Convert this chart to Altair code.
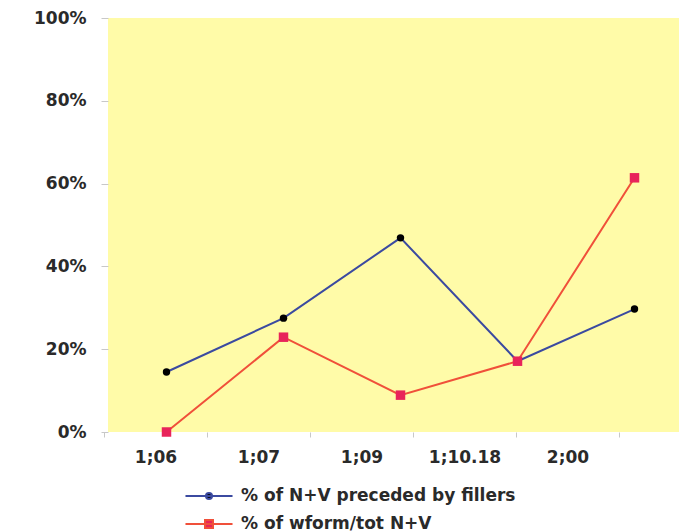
import altair as alt
import pandas as pd

ages = ["1;06", "1;07", "1;09", "1;10.18", "2;00"]
fillers = [14.5, 27.5, 46.9, 17.1, 29.7]
wform = [0.0, 22.9, 8.9, 17.1, 61.4]
series_names = ["% of N+V preceded by fillers", "% of wform/tot N+V"]
line_colors = ["#3b4aa0", "#f0503a"]
marker_colors = ["#000000", "#e8245a"]
marker_shapes = ["circle", "square"]
legend_paths = [
    "M-2.94,0H2.94M-0.38,0A0.38,0.38,0,1,0,0.38,0A0.38,0.38,0,1,0,-0.38,0Z",
    "M-2.94,0H2.94M-0.5,-0.5H0.5V0.5H-0.5Z",
]

rows = []
for a, v in zip(ages, fillers):
    rows.append({"age": a, "value": v / 100, "series": series_names[0]})
for a, v in zip(ages, wform):
    rows.append({"age": a, "value": v / 100, "series": series_names[1]})
df = pd.DataFrame(rows)

FONT = "DejaVu Sans"
FS = 17

x_data = alt.X("age:N", sort=ages, title=None,
               scale=alt.Scale(range=[0, 585], paddingInner=0, paddingOuter=0),
               axis=None)
y_axis = alt.Y("value:Q", title=None,
               scale=alt.Scale(domain=[0, 1], nice=False),
               axis=alt.Axis(format=".0%", values=[0, 0.2, 0.4, 0.6, 0.8, 1.0], grid=False,
                             domain=False, tickColor="#c8c8c8", tickSize=7, labelPadding=15))

lines = alt.Chart(df).mark_line(strokeWidth=2).encode(
    x=x_data, y=y_axis,
    color=alt.Color("series:N", scale=alt.Scale(domain=series_names, range=line_colors), legend=None),
)

points = alt.Chart(df).mark_point(filled=True, opacity=1).encode(
    x=x_data, y=y_axis,
    shape=alt.Shape("series:N", scale=alt.Scale(domain=series_names, range=marker_shapes), legend=None),
    fill=alt.Fill("series:N", scale=alt.Scale(domain=series_names, range=marker_colors), legend=None),
    size=alt.Size("series:N", scale=alt.Scale(domain=series_names, range=[55, 90]), legend=None),
)

leg = dict(title=None, orient="none", legendX=92, legendY=469,
           direction="vertical", symbolSize=256,
           symbolStrokeWidth=2, symbolOpacity=1,
           labelFont=FONT, labelFontWeight="bold",
           labelFontSize=FS, labelColor="#2a2a2a", labelLimit=0,
           labelOffset=23, rowPadding=11)

legend_layer = alt.Chart(df).mark_point(opacity=0, filled=False).encode(
    x=x_data, y=y_axis,
    stroke=alt.Stroke("series:N", scale=alt.Scale(domain=series_names, range=line_colors),
                      legend=alt.Legend(**leg)),
    fill=alt.Fill("series:N", scale=alt.Scale(domain=series_names, range=marker_colors),
                  legend=alt.Legend(**leg)),
    shape=alt.Shape("series:N", scale=alt.Scale(domain=series_names, range=legend_paths),
                    legend=alt.Legend(**leg)),
)

axis_layer = alt.Chart(df).mark_point(opacity=0).encode(
    x=alt.X("age:N", sort=ages, title=None,
            scale=alt.Scale(range=[-4, 511], paddingInner=0, paddingOuter=0),
            axis=alt.Axis(labelAngle=0, labelPadding=12, ticks=True, tickBand="extent",
                          tickColor="#c8c8c8", domain=False, tickSize=5)),
    y=y_axis,
)

chart = alt.layer(lines, points, legend_layer, axis_layer).resolve_scale(
    x="independent", shape="independent", fill="independent", stroke="independent"
).resolve_axis(
    x="independent"
).properties(
    width=571, height=414,
    autosize=alt.AutoSizeParams(type="none"),
    padding={"left": 100, "top": 10, "right": 0, "bottom": 100},
).configure_view(
    fill="#fffba8", stroke=None
).configure_axis(
    labelFont=FONT, labelFontWeight="bold", labelFontSize=FS, labelColor="#2a2a2a"
)

chart.save("out.html", embed_options={"renderer": "svg", "actions": False})
